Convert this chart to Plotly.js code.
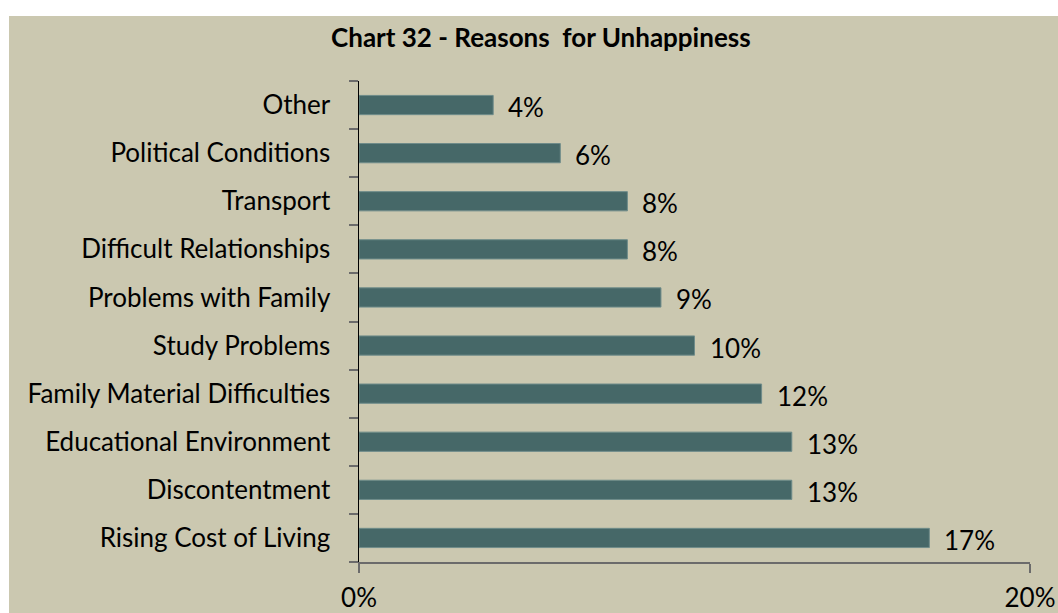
<!DOCTYPE html>
<html><head><meta charset="utf-8">
<script src="https://cdn.plot.ly/plotly-3.0.1.min.js"></script>
<style>html,body{margin:0;padding:0;background:#fff;}#chart{position:absolute;left:9px;top:16px;width:1049px;height:597px;}</style>
</head><body><div id="chart"></div>
<script>
const categories = ["Rising Cost of Living","Discontentment","Educational Environment","Family Material Difficulties","Study Problems","Problems with Family","Difficult Relationships","Transport","Political Conditions","Other"];
const values = [17, 12.9, 12.9, 12, 10, 9, 8, 8, 6, 4];
const labels = ["17%","13%","13%","12%","10%","9%","8%","8%","6%","4%"];
const xTickVals = [0, 20];
const xTickText = ["0%", "20%"];

const font = "Lato, 'Open Sans', sans-serif";
const annotations = categories.map((c, i) => ({
  x: values[i], y: c, xref: "x", yref: "y", text: labels[i], showarrow: false,
  xanchor: "left", yanchor: "middle", xshift: 13, yshift: -2,
  font: {family: font, size: 26, color: "#000"}
}));

Plotly.newPlot("chart", [{
  type: "bar", orientation: "h", x: values, y: categories,
  marker: {color: "#466868", line: {color: "#6f8c8a", width: 1}},
  hoverinfo: "skip"
}], {
  width: 1049, height: 597,
  paper_bgcolor: "#CBC8B0", plot_bgcolor: "#CBC8B0",
  margin: {l: 350, r: 28, t: 65, b: 51},
  bargap: 0.6,
  showlegend: false,
  title: {text: "<b>Chart 32 - Reasons  for Unhappiness</b>", x: 0.507, xanchor: "center", y: 0.963, yanchor: "middle",
          font: {family: font, size: 26, color: "#000"}},
  xaxis: {range: [0, 20], tickvals: xTickVals, ticktext: xTickText, showgrid: false, zeroline: false,
          showline: true, linecolor: "#6b6b6b", linewidth: 2, ticks: "outside", ticklen: 9, tickcolor: "#6b6b6b", tickwidth: 2,
          ticklabelstandoff: 3, tickfont: {family: font, size: 26, color: "#000"}, fixedrange: true},
  yaxis: {type: "category", range: [-0.5, 9.5], tickson: "boundaries", showgrid: false, zeroline: false,
          showline: true, linecolor: "#000", linewidth: 1.5, ticks: "outside", ticklen: 9, tickcolor: "#6b6b6b", tickwidth: 2,
          ticklabelstandoff: 22, tickfont: {family: font, size: 26, color: "#000"}, fixedrange: true},
  annotations: annotations
}, {displayModeBar: false, staticPlot: true});
</script></body></html>
